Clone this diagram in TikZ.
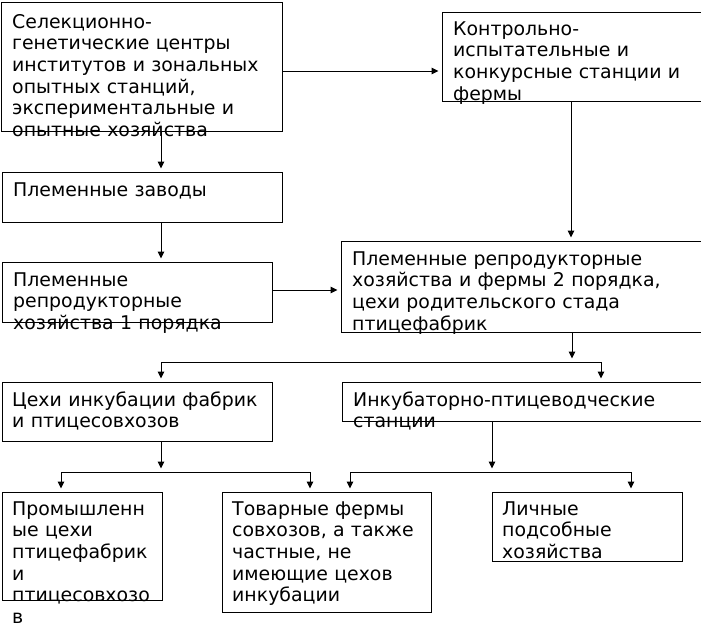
\documentclass[tikz,border=0pt]{standalone}
\usepackage{fontspec}
\setmainfont{DejaVu Sans}
\usetikzlibrary{arrows.meta,calc}
\begin{document}
\begin{tikzpicture}[x=1pt,y=-1pt,
  box/.style={draw,line width=1pt,anchor=north west,inner sep=0pt,outer sep=0pt},
  txt/.style={anchor=base west,inner sep=0pt,align=left,text width=400pt,font=\fontsize{18.9}{21.7}\selectfont},
  arr/.style={line width=1pt,-{Triangle[length=7pt,width=6.5pt]},shorten >=3.5pt},
  ln/.style={line width=1pt}]
\useasboundingbox (0,0) rectangle (701,627);
\fill[white] (0,0) rectangle (701,627);

% boxes
\node[box,minimum width=281pt,minimum height=129pt] (b1) at (1,2) {};
\node[box,minimum width=261pt,minimum height=89pt]  (b2) at (442,12) {};
\node[box,minimum width=280pt,minimum height=50pt]  (b3) at (2,172) {};
\node[box,minimum width=270pt,minimum height=60pt]  (b4) at (2,262) {};
\node[box,minimum width=362pt,minimum height=91pt]  (b5) at (341,241) {};
\node[box,minimum width=270pt,minimum height=59pt]  (b6) at (2,382) {};
\node[box,minimum width=361pt,minimum height=39pt]  (b7) at (342,382) {};
\node[box,minimum width=160pt,minimum height=108pt] (b8) at (2,492) {};
\node[box,minimum width=209pt,minimum height=120pt] (b9) at (222,492) {};
\node[box,minimum width=190pt,minimum height=69pt]  (b10) at (492,492) {};

% texts
\node[txt] (t1) at ($(b1.north west)+(11,26)$) {Селекционно-\\генетические центры\\институтов и зональных\\опытных станций,\\экспериментальные и\\опытные хозяйства};
\node[txt] (t2) at ($(b2.north west)+(11,23)$) {Контрольно-\\испытательные и\\конкурсные станции и\\фермы};
\node[txt] (t3) at ($(b3.north west)+(11,24)$) {Племенные заводы};
\node[txt] (t4) at ($(b4.north west)+(11,24)$) {Племенные\\репродукторные\\хозяйства 1 порядка};
\node[txt] (t5) at ($(b5.north west)+(11,24)$) {Племенные репродукторные\\хозяйства и фермы 2 порядка,\\цехи родительского стада\\птицефабрик};
\node[txt] (t6) at ($(b6.north west)+(10,24)$) {Цехи инкубации фабрик\\и птицесовхозов};
\node[txt] (t7) at ($(b7.north west)+(11,24)$) {Инкубаторно-птицеводческие\\станции};
\node[txt] (t8) at ($(b8.north west)+(10,23)$) {Промышленн\\ые цехи\\птицефабрик\\и\\птицесовхозо\\в};
\node[txt] (t9) at ($(b9.north west)+(10,23)$) {Товарные фермы\\совхозов, а также\\частные, не\\имеющие цехов\\инкубации};
\node[txt] (t10) at ($(b10.north west)+(10,23)$) {Личные\\подсобные\\хозяйства};

% junction points
\coordinate (j1) at (572,362);
\coordinate (j1l) at (161,362);
\coordinate (j1r) at (601,362);
\coordinate (j2) at (161,472);
\coordinate (j2l) at (61,472);
\coordinate (j2r) at (310,472);
\coordinate (j3) at (492,472);
\coordinate (j3l) at (350,472);
\coordinate (j3r) at (631,472);

% connectors
\draw[arr] ([yshift=-4.5pt]b1.east) -- ([yshift=-4.5pt]b1.east -| b2.west);
\draw[arr] ([xshift=19.5pt]b1.south) -- ([xshift=19.5pt]b1.south |- b3.north);
\draw[arr] ([xshift=19pt]b3.south) -- ([xshift=19pt]b3.south |- b4.north);
\draw[arr] ([yshift=2pt]b4.east) -- ([yshift=2pt]b4.east -| b5.west);
\draw[arr] ([xshift=-1.5pt]b2.south) -- ([xshift=-1.5pt]b2.south |- b5.north);
\draw[arr] (b5.south -| j1) -- (j1);
\draw[ln] (j1l) -- (j1r);
\draw[arr] (j1l) -- (j1l |- b6.north);
\draw[arr] (j1r) -- (j1r |- b7.north);
\draw[arr] (b6.south -| j2) -- (j2);
\draw[ln] (j2l) -- (j2r);
\draw[arr] (j2l) -- (j2l |- b8.north);
\draw[arr] (j2r) -- (j2r |- b9.north);
\draw[arr] (b7.south -| j3) -- (j3);
\draw[ln] (j3l) -- (j3r);
\draw[arr] (j3l) -- (j3l |- b9.north);
\draw[arr] (j3r) -- (j3r |- b10.north);
\end{tikzpicture}
\end{document}
